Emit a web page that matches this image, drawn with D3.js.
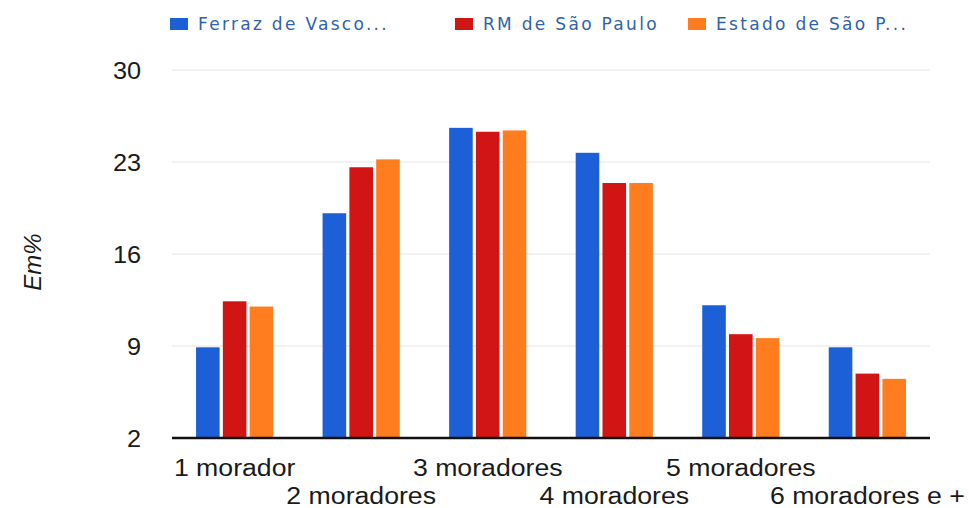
<!DOCTYPE html>
<html lang="pt">
<head>
<meta charset="UTF-8">
<title>Moradores por domicílio</title>
<script src="https://d3js.org/d3.v7.min.js"></script>
<style>
  body { margin: 0; background: #fff; }
  svg { display: block; }
  .tick text { font-family: Arial, "Liberation Sans", sans-serif; fill: #1a1a1a; }
  .legend text { font-family: "DejaVu Sans", Verdana, sans-serif; font-size: 17px; letter-spacing: 2.3px; fill: #2f63a8; }
</style>
</head>
<body>
<svg id="chart"></svg>
<script>
const categories = ["1 morador", "2 moradores", "3 moradores", "4 moradores", "5 moradores", "6 moradores e +"];
const seriesNames = ["Ferraz de Vasco...", "RM de São Paulo", "Estado de São P..."];
const ferraz = [8.9, 19.1, 25.6, 23.7, 12.1, 8.9];
const rmsp = [12.4, 22.6, 25.3, 21.4, 9.9, 6.9];
const estado = [12.0, 23.2, 25.4, 21.4, 9.6, 6.5];
const yTicks = [2, 9, 16, 23, 30];
const colors = ["#1c5fd6", "#d11414", "#ff7d1f"];

const W = 969, H = 508;
const plotLeft = 172, plotRight = 930, plotTop = 70, plotBottom = 438;

const svg = d3.select("#chart").attr("width", W).attr("height", H);

const x = d3.scaleBand().domain(categories).range([plotLeft, plotRight]).paddingInner(0.39).paddingOuter(0.19);
const xs = d3.scaleBand().domain(d3.range(seriesNames.length)).range([0, x.bandwidth()]).paddingInner(0.12);
const y = d3.scaleLinear().domain([2, 30]).range([plotBottom, plotTop]);

// gridlines
svg.append("g")
   .selectAll("line")
   .data(yTicks.slice(1))
   .join("line")
   .attr("x1", plotLeft).attr("x2", plotRight)
   .attr("y1", d => y(d)).attr("y2", d => y(d))
   .attr("stroke", "#e4e4e4")
   .attr("stroke-width", 1);

// y axis labels
const yAxis = svg.append("g")
   .attr("transform", `translate(${plotLeft - 31},0)`)
   .call(d3.axisLeft(y).tickValues(yTicks).tickSize(0).tickPadding(0));
yAxis.select(".domain").remove();
yAxis.selectAll("text")
   .attr("font-size", 23)
   .attr("dy", "0.36em")
   .attr("transform", "scale(1.1,1)");

// bars
const rows = categories.map((c, i) => ({cat: c, vals: [ferraz[i], rmsp[i], estado[i]]}));
const groups = svg.append("g")
   .selectAll("g")
   .data(rows)
   .join("g")
   .attr("transform", d => `translate(${x(d.cat)},0)`);

groups.selectAll("rect")
   .data(d => d.vals.map((v, k) => ({k, v})))
   .join("rect")
   .attr("x", d => xs(d.k))
   .attr("width", xs.bandwidth())
   .attr("y", d => y(d.v))
   .attr("height", d => y(2) - y(d.v))
   .attr("fill", d => colors[d.k]);

// baseline
svg.append("line")
   .attr("x1", plotLeft).attr("x2", plotRight)
   .attr("y1", y(2)).attr("y2", y(2))
   .attr("stroke", "#111")
   .attr("stroke-width", 2.5);

// x axis labels, alternating rows
const xAxis = svg.append("g")
   .attr("transform", `translate(0,${plotBottom})`)
   .call(d3.axisBottom(x).tickSize(0).tickPadding(0));
xAxis.select(".domain").remove();
xAxis.selectAll("text")
   .attr("font-size", 23)
   .attr("dy", null)
   .attr("y", (d, i) => i % 2 === 0 ? 38 : 66)
   .attr("transform", "scale(1.16,1)");

// y title
svg.append("text")
   .attr("transform", "translate(41,262) rotate(-90)")
   .attr("text-anchor", "middle")
   .attr("font-family", "Arial, 'Liberation Sans', sans-serif")
   .attr("font-style", "italic")
   .attr("font-size", 24)
   .attr("fill", "#1a1a1a")
   .text("Em%");

// legend
const legendX = [170, 455, 688];
const legend = svg.append("g").attr("class", "legend")
   .selectAll("g")
   .data(seriesNames)
   .join("g")
   .attr("transform", (d, i) => `translate(${legendX[i]},18)`);
legend.append("rect")
   .attr("width", 18).attr("height", 12)
   .attr("fill", (d, i) => colors[i]);
legend.append("text")
   .attr("x", 28).attr("y", 12)
   .text(d => d);
</script>
</body>
</html>
